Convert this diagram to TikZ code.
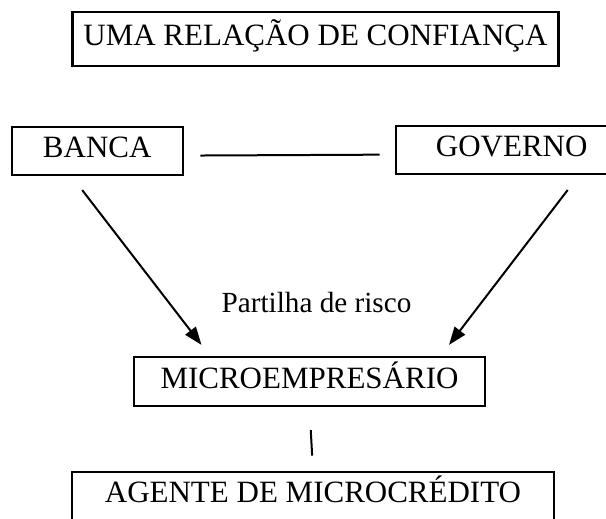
\documentclass[tikz,border=0pt]{standalone}
\usepackage{fontspec}
\setmainfont{Liberation Serif}
\usepackage{tikz}
\usetikzlibrary{positioning,calc,arrows.meta}

\begin{document}
\begin{tikzpicture}[x=0.5pt,y=-0.5pt,
        caixa/.style={draw, line width=1.1pt, inner sep=0pt, text height=0.662em, text depth=0pt,
            font=\fontsize{15.5}{18}\selectfont},
        ligacao/.style={line width=1pt},
        seta/.style={line width=1pt, -{Triangle[length=9pt,width=6.5pt]}}]
        \path[use as bounding box, clip] (0,0) rectangle (606,519);

        \node[caixa, minimum width=243pt, minimum height=27.2pt] (titulo) at (315.5,39.2) {UMA RELAÇÃO DE CONFIANÇA};
        \node[caixa, minimum width=85.5pt, minimum height=24pt] (banca) at (97.2,151) {BANCA};
        \node[caixa, minimum width=116pt, minimum height=23.9pt] (governo) at (511.7,150) {GOVERNO};
        \node[caixa, minimum width=175.5pt, minimum height=24.5pt] (micro) at (309.5,381.5) {MICROEMPRESÁRIO};
        \node[caixa, minimum width=241.3pt, minimum height=24pt] (agente) at (313,496.3) {AGENTE DE MICROCRÉDITO};
        \node[text height=0.662em, text depth=0pt, font=\fontsize{14.6}{16}\selectfont] (partilha) at (316.5,305.5) {Partilha de risco};

        \draw[ligacao, shorten <=8.3pt, shorten >=7.5pt] ([yshift=-2.3pt]banca.east) -- ([yshift=-2.3pt]governo.west);
        \draw[seta] ($(banca.south)+(-15,14)$) -- ($(micro.north)+(-108,-11)$);
        \draw[seta] ($(governo.south)+(56,15)$) -- ($(micro.north)+(139.5,-11)$);
        \draw[ligacao, shorten <=11.5pt, shorten >=7.8pt] (micro.south) -- (agente.north);
    \end{tikzpicture}
\end{document}
